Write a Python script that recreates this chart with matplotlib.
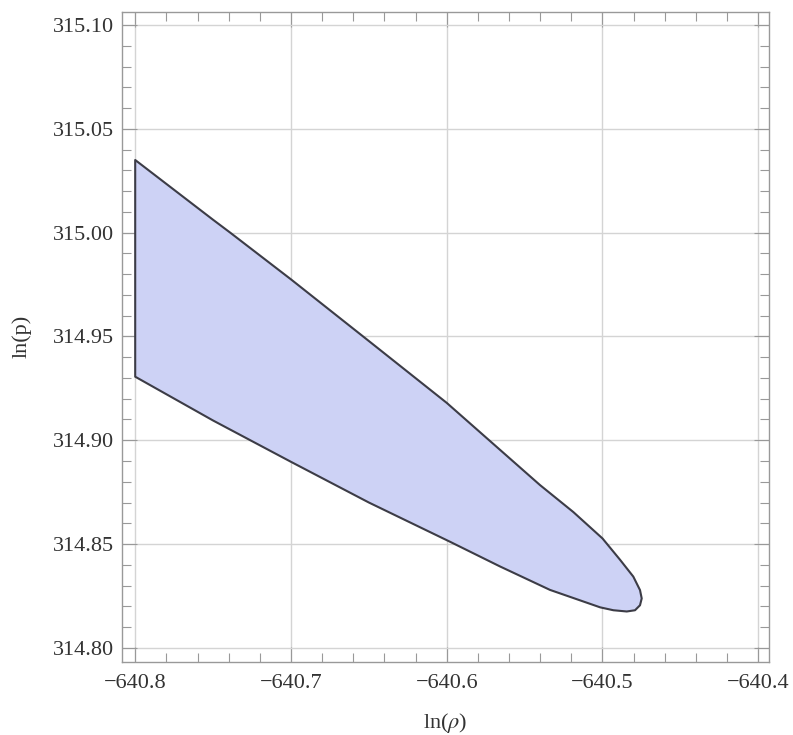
import numpy as np
import matplotlib
matplotlib.use('Agg')
import matplotlib.pyplot as plt
from matplotlib.ticker import MultipleLocator

plt.rcParams['font.family'] = 'Liberation Serif'
plt.rcParams['mathtext.fontset'] = 'stix'

# boundary of the region
# upper edge, left to the tip
upper_x = [-640.800, -640.750, -640.739, -640.700, -640.650, -640.600,
           -640.5401, -640.5187, -640.500, -640.4887, -640.4802, -640.4759,
           -640.4748]
upper_y = [315.035, 315.0062, 315.000, 314.9775, 314.9478, 314.918,
           314.8784, 314.8654, 314.8527, 314.8424, 314.8343, 314.8278,
           314.8238]
# lower edge, tip back to the left
lower_x = [-640.4759, -640.4791, -640.4844, -640.4930, -640.5015, -640.5337,
           -640.5658, -640.5979, -640.650, -640.700, -640.750, -640.800]
lower_y = [314.8205, 314.8181, 314.8175, 314.8181, 314.8195, 314.8279,
           314.8392, 314.8511, 314.8700, 314.8896, 314.9095, 314.9306]

xlim = (-640.8085, -640.3931)
ylim = (314.7933, 315.1063)

fig = plt.figure(figsize=(7.93, 7.35), dpi=100)
ax = fig.add_axes([0.1538, 0.0997, 0.8159, 0.8840])

px = np.array(upper_x + lower_x)
py = np.array(upper_y + lower_y)
ax.fill(px, py, facecolor='#cdd2f5', edgecolor='#3c3c46', linewidth=1.5,
        joinstyle='round', zorder=3)

ax.set_xlim(*xlim)
ax.set_ylim(*ylim)

ax.xaxis.set_major_locator(MultipleLocator(0.1))
ax.xaxis.set_minor_locator(MultipleLocator(0.02))
ax.yaxis.set_major_locator(MultipleLocator(0.05))
ax.yaxis.set_minor_locator(MultipleLocator(0.01))
ax.xaxis.set_major_formatter(matplotlib.ticker.FuncFormatter(lambda v, p: '\u2212%.1f' % abs(v)))
ax.yaxis.set_major_formatter(matplotlib.ticker.FormatStrFormatter('%.2f'))

ax.tick_params(which='both', direction='in', top=True, right=True,
               color='#999999', labelcolor='#333333', labelsize=16, width=0.8)
ax.tick_params(which='major', length=11, pad=6)
ax.tick_params(which='minor', length=6.5)
ax.tick_params(axis='x', which='major', pad=9)

ax.grid(True, which='major', color='#d4d4d4', linewidth=1.0, zorder=0)
ax.set_axisbelow(True)
for s in ax.spines.values():
    s.set_color('#999999')
    s.set_linewidth(1.0)

fig.text(0.5618, 0.016, r'ln($\rho$)', ha='center', va='center',
         fontsize=16, color='#333333')
fig.text(0.027, 0.542, 'ln(p)', ha='center', va='center', rotation=90,
         fontsize=16, color='#333333')

fig.savefig('out.png', dpi=100)
